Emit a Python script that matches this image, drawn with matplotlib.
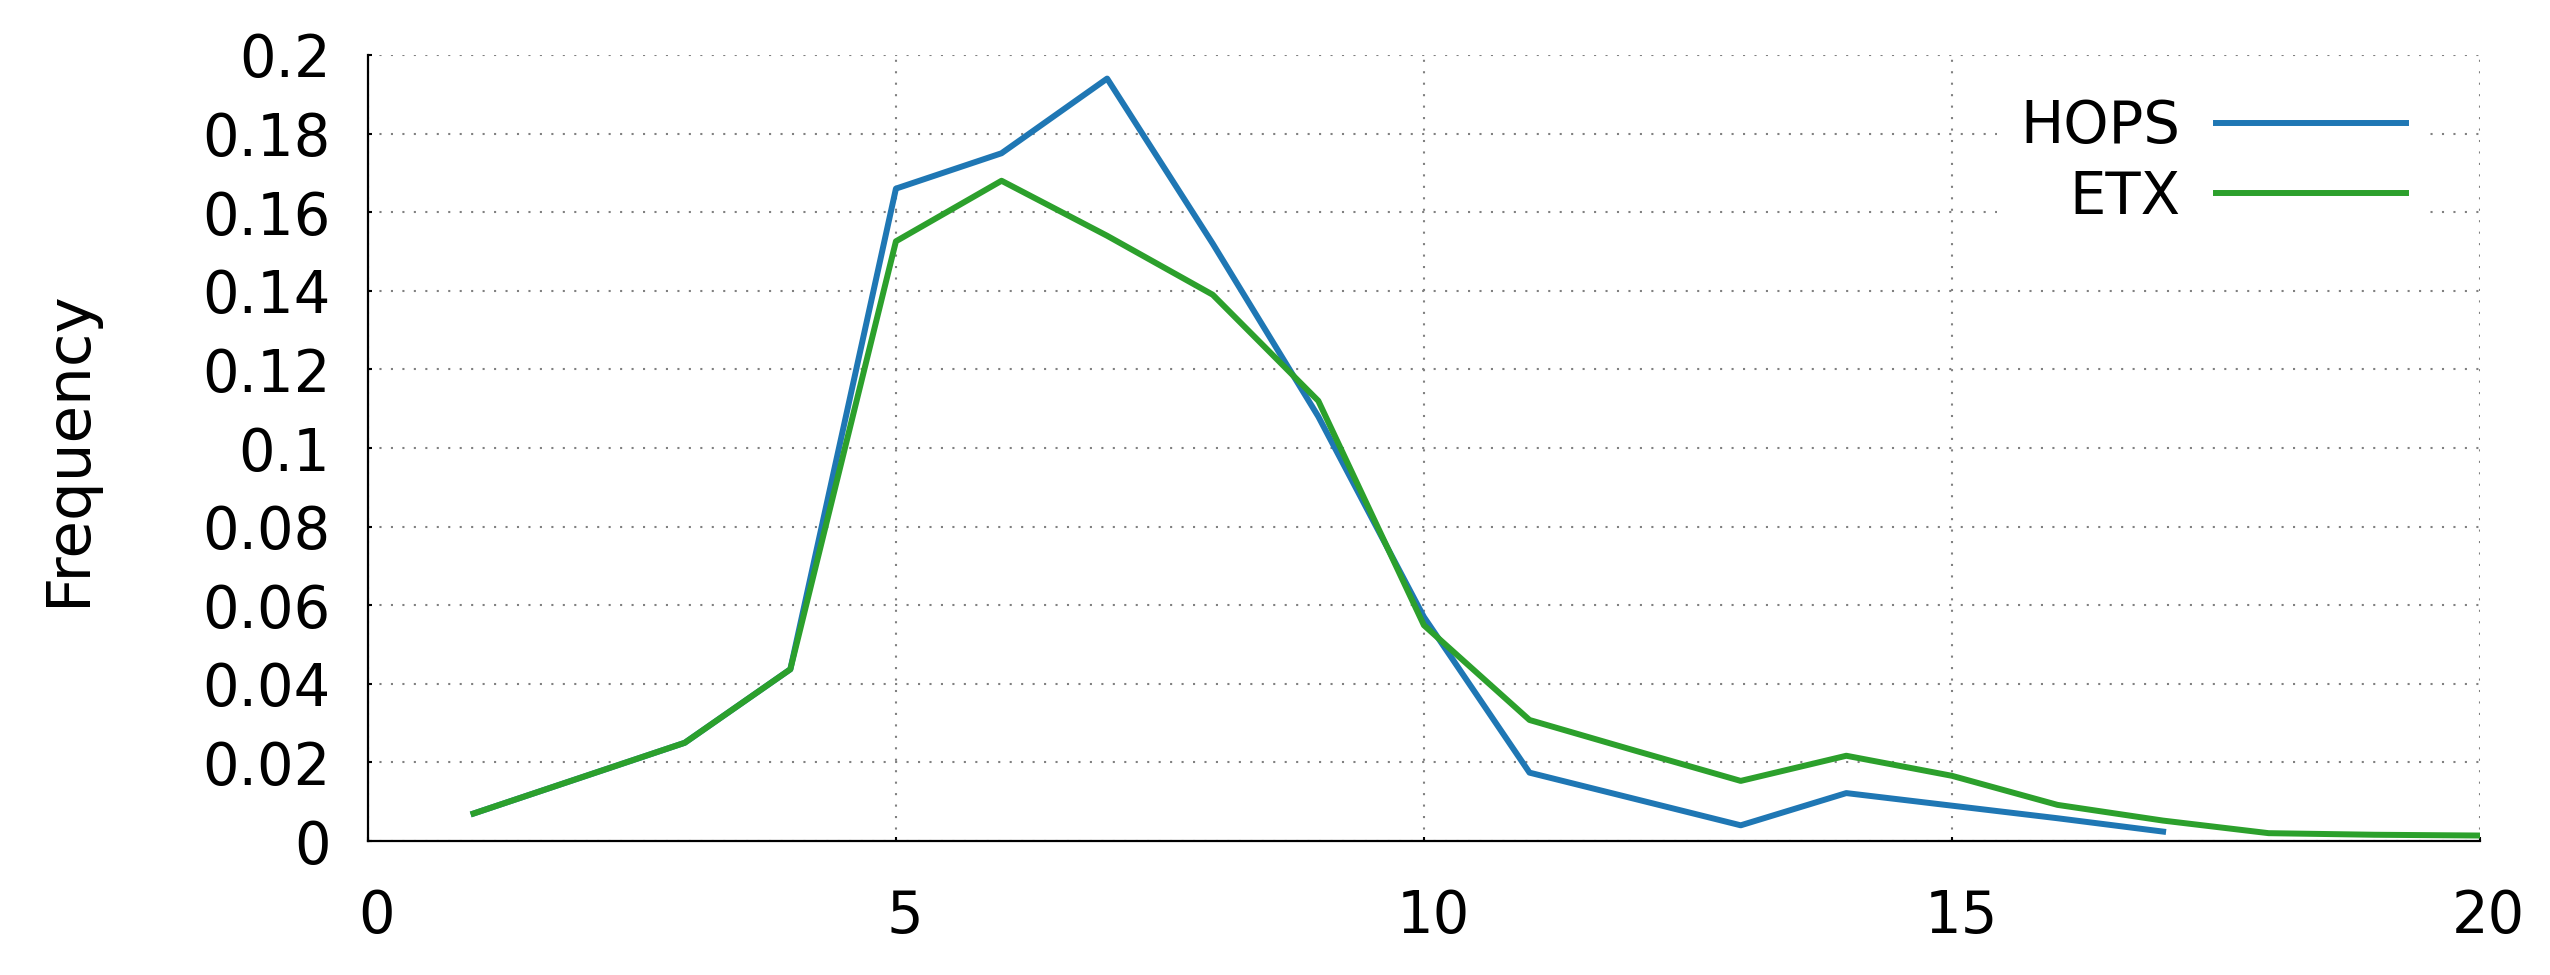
import matplotlib
matplotlib.use("Agg")
import matplotlib.pyplot as plt
import matplotlib.transforms as mtransforms

# hop count distribution
hops_x = [1, 2, 3, 4, 5, 6, 7, 8, 9, 10, 11, 12, 13, 14, 15, 16, 17]
hops_y = [0.007, 0.016, 0.025, 0.0437, 0.166, 0.175, 0.194, 0.152, 0.108, 0.057,
          0.0174, 0.0107, 0.004, 0.0122, 0.009, 0.0058, 0.0024]

etx_x = [1, 2, 3, 4, 5, 6, 7, 8, 9, 10, 11, 12, 13, 14, 15, 16, 17, 18, 19, 20]
etx_y = [0.007, 0.016, 0.025, 0.0437, 0.1526, 0.168, 0.154, 0.139, 0.112, 0.0549,
         0.0308, 0.023, 0.0153, 0.0217, 0.0166, 0.0092, 0.0052, 0.002, 0.0016, 0.0014]

x_ticks = [0, 5, 10, 15, 20]
y_ticks = [0, 0.02, 0.04, 0.06, 0.08, 0.1, 0.12, 0.14, 0.16, 0.18, 0.2]
y_ticklabels = ["0", "0.02", "0.04", "0.06", "0.08", "0.1", "0.12", "0.14", "0.16", "0.18", "0.2"]

fs = 41.5

fig = plt.figure(figsize=(25.5, 9.75), dpi=100)
ax = fig.add_axes([0.1443, 0.1374, 0.9725 - 0.1443, 0.9436 - 0.1374])

ax.plot(hops_x, hops_y, color="#1f77b4", lw=4.3, label="HOPS")
ax.plot(etx_x, etx_y, color="#2ca02c", lw=4.3, label="ETX")

ax.set_xlim(0, 20)
ax.set_ylim(0, 0.2)
ax.set_xticks(x_ticks)
ax.set_yticks(y_ticks)
ax.set_yticklabels(y_ticklabels)
ax.tick_params(axis="both", direction="in", length=3, width=1.5, labelsize=fs)
ax.tick_params(axis="y", pad=27)
ax.tick_params(axis="x", pad=34)

# gnuplot puts the x labels a little right of the tick
shift = mtransforms.ScaledTranslation(9 / 100, 0, fig.dpi_scale_trans)
for lab in ax.get_xticklabels():
    lab.set_transform(lab.get_transform() + shift)

ax.grid(True, color="#808080", lw=1.5, linestyle=(0, (1, 4.5)))
ax.set_axisbelow(True)
for s in ["top", "right"]:
    ax.spines[s].set_visible(False)
for s in ["left", "bottom"]:
    ax.spines[s].set_linewidth(1.6)

ax.set_ylabel("Frequency", fontsize=44, va="center")
ax.yaxis.set_label_coords(-0.142, 0.5)

leg = ax.legend(loc="upper right", bbox_to_anchor=(0.976, 0.975), fontsize=fs,
                markerfirst=False, handlelength=3.3, handletextpad=0.62,
                labelspacing=0.24, borderpad=0.4, borderaxespad=0,
                frameon=True, fancybox=False, framealpha=1)
leg.get_frame().set_edgecolor("none")
leg.get_frame().set_facecolor("white")

fig.savefig("out.png", dpi=100)
